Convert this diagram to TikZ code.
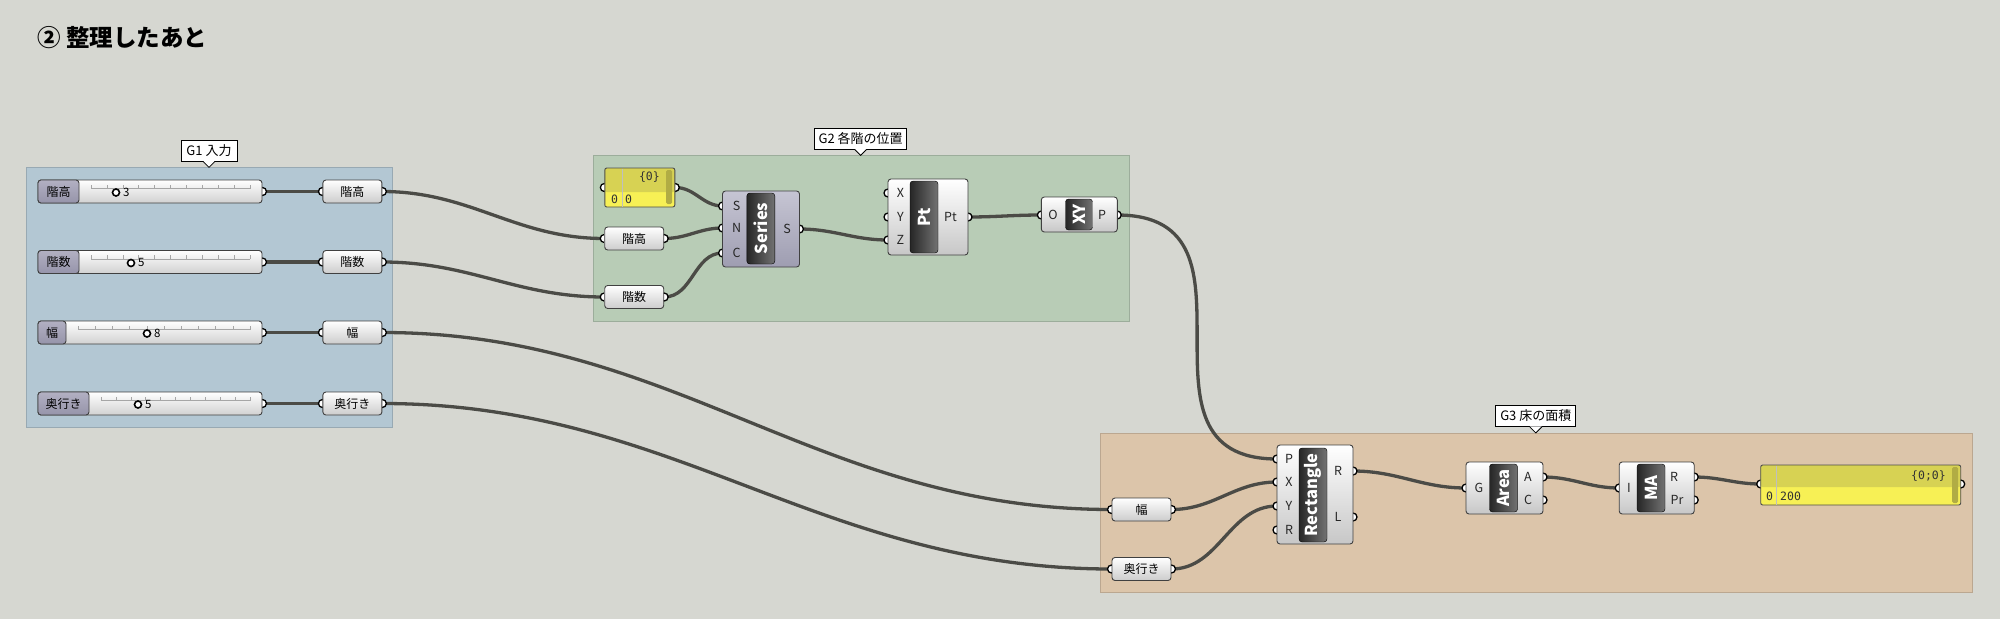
\documentclass[tikz,border=0pt]{standalone}
\usepackage{fontspec}
\setmainfont{Noto Sans CJK JP}
\newfontfamily\panfont{DejaVu Sans Mono}
\usetikzlibrary{positioning}
\pgfdeclarelayer{grp}
\pgfdeclarelayer{wires}
\pgfdeclarelayer{ports}
\pgfsetlayers{grp,wires,ports,main}
\definecolor{canvas}{HTML}{D6D7D1}
\definecolor{grpA}{HTML}{B3C7D3}
\definecolor{grpB}{HTML}{B8CCB6}
\definecolor{grpC}{HTML}{DCC5AA}
\definecolor{wirec}{HTML}{4B4B46}
\definecolor{slabhi}{HTML}{B2B0C2}
\definecolor{slablo}{HTML}{9694AA}
\definecolor{serhi}{HTML}{C6C5D3}
\definecolor{serlo}{HTML}{9E9DB1}
\definecolor{panhead}{HTML}{D7D253}
\definecolor{panbody}{HTML}{F7F055}
\definecolor{panbar}{HTML}{B1AC44}
\newcommand{\ghfont}[1]{\fontsize{#1}{#1}\selectfont}

\begin{document}
\begin{tikzpicture}[
    x=1pt, y=-1pt,
    every node/.style={inner sep=0pt, font=\ghfont{12}},
    group/.style={draw=#1!85!black, fill=#1, line width=0.8pt},
    glabel/.style={draw=black, fill=white, line width=0.8pt, minimum height=21pt, inner xsep=4pt, font=\ghfont{13}},
    slider/.style={draw=black!75, rounded corners=3pt, top color=white, bottom color=black!18, line width=0.9pt, minimum width=224pt, minimum height=23pt},
    slidername/.style={draw=black!75, rounded corners=3pt, top color=slabhi, bottom color=slablo, line width=0.9pt, minimum height=23pt, anchor=west},
    track/.style={draw=black!35, line width=0.6pt},
    knob/.style={circle, draw=black, line width=1.6pt, fill=white, minimum size=7pt},
    relay/.style={draw=black!75, rounded corners=3pt, top color=white, bottom color=black!20, line width=0.9pt, minimum width=59pt, minimum height=23pt},
    comp/.style={draw=black!75, rounded corners=3pt, top color=white, bottom color=black!22, line width=0.9pt},
    core/.style={draw=black, rounded corners=3pt, left color=black!85, right color=black!55, text=white, rotate=90, font=\ghfont{16.5}\bfseries},
    plab/.style={font=\ghfont{12.5}, text=black!85},
    port/.style={circle, draw=black, line width=1.3pt, fill=white, minimum size=8pt},
    wire/.style={draw=wirec, line width=3.3pt},
    panel/.style={draw=black!70, rounded corners=2pt, fill=panbody, line width=0.9pt,
        path picture={\fill[panhead] (path picture bounding box.north west) rectangle ([yshift=#1]path picture bounding box.south east);}},
    pantext/.style={font=\panfont\ghfont{11.5}, text=black!80}
]
\useasboundingbox (0,0) rectangle (2000,619);
\begin{pgfonlayer}{grp}
\fill[canvas] (0,0) rectangle (2000,619);
\draw[group=grpA] (26,167) rectangle (392,427);
\draw[group=grpB] (593,155) rectangle (1129.5,321);
\draw[group=grpC] (1100,433) rectangle (1972,592);
\end{pgfonlayer}

\node[anchor=west, font=\ghfont{23.5}\bfseries] (title) at (37,38) {② 整理したあと};

% group labels
\node[glabel, minimum width=56pt] (g1lab) at (209,150.5) {G1 入力};
\node[glabel, minimum width=92pt] (g2lab) at (860.6,138.5) {G2 各階の位置};
\node[glabel, minimum width=80pt] (g3lab) at (1535.8,416) {G3 床の面積};
\fill[white] ([xshift=-6pt,yshift=0.6pt]g1lab.south) -- ++(6,6.6) -- ++(6,-6.6) -- cycle;
\draw[line width=0.8pt] ([xshift=-6pt]g1lab.south) -- ++(6,6) -- ++(6,-6);
\fill[white] ([xshift=-6pt,yshift=0.6pt]g2lab.south) -- ++(6,6.6) -- ++(6,-6.6) -- cycle;
\draw[line width=0.8pt] ([xshift=-6pt]g2lab.south) -- ++(6,6) -- ++(6,-6);
\fill[white] ([xshift=-6pt,yshift=0.6pt]g3lab.south) -- ++(6,6.6) -- ++(6,-6.6) -- cycle;
\draw[line width=0.8pt] ([xshift=-6pt]g3lab.south) -- ++(6,6) -- ++(6,-6);

% G1 sliders
\node[slider] (s1) at (150,191.5) {};
\node[slidername, minimum width=41pt] (s1n) at (s1.west) {階高};
\node[slider] (s2) at (150,262) {};
\node[slidername, minimum width=41pt] (s2n) at (s2.west) {階数};
\node[slider] (s3) at (150,332.5) {};
\node[slidername, minimum width=28pt] (s3n) at (s3.west) {幅};
\node[slider] (s4) at (150,403.5) {};
\node[slidername, minimum width=51pt] (s4n) at (s4.west) {奥行き};
\foreach \ty/\tx in {188.5/91, 259/91, 329.5/78, 400.5/101}{
    \draw[track] (\tx,\ty) -- (250,\ty);
    \foreach \t in {0,...,10} \draw[track] ({\tx+(250-\tx)*\t/10},\ty) -- ++(0,-4);
}
\node[knob] (k1) at (116,192.5) {};
\node[anchor=west, font=\ghfont{11.5}] (v1) at (123,192) {3};
\node[knob] (k2) at (131,263) {};
\node[anchor=west, font=\ghfont{11.5}] (v2) at (138,262.5) {5};
\node[knob] (k3) at (147,333.5) {};
\node[anchor=west, font=\ghfont{11.5}] (v3) at (154,333) {8};
\node[knob] (k4) at (138,404.5) {};
\node[anchor=west, font=\ghfont{11.5}] (v4) at (145,404) {5};

\node[relay, right=60pt of s1] (r1) {階高};
\node[relay, right=60pt of s2] (r2) {階数};
\node[relay, right=60pt of s3] (r3) {幅};
\node[relay, right=60pt of s4] (r4) {奥行き};

% G2
\node[panel=15pt, minimum width=70pt, minimum height=39pt] (pan1) at (639.8,187.5) {};
\draw[black!25, line width=0.6pt] (622,168.5) -- (622,206.5);
\fill[panbar, rounded corners=1.5pt] (666,170) rectangle (672,204);
\node[pantext, anchor=east] (pan1h) at (660,177) {\{0\}};
\node[pantext, anchor=west] (pan1a) at (611,199) {0};
\node[pantext, anchor=west] (pan1b) at (625,199) {0};

\node[relay] (h2) at (634.2,238.5) {階高};
\node[relay] (n2) at (634.2,297) {階数};

\node[comp, top color=serhi, bottom color=serlo, minimum width=77pt, minimum height=76pt] (ser) at (761,229) {};
\node[core, minimum width=71pt, minimum height=28pt] (serc) at (760.8,228.5) {Series};
\node[plab] (ser-l1) at (736.6,206) {S};
\node[plab] (ser-l2) at (736.6,228) {N};
\node[plab] (ser-l3) at (736.6,253) {C};
\node[plab] (ser-l4) at (787,229) {S};

\node[comp, minimum width=80pt, minimum height=76pt] (pt) at (928,217) {};
\node[core, minimum width=72pt, minimum height=28pt] (ptc) at (924,217) {Pt};
\node[plab] (pt-l1) at (900.4,193) {X};
\node[plab] (pt-l2) at (900.4,217) {Y};
\node[plab] (pt-l3) at (900.4,240) {Z};
\node[plab] (pt-l4) at (950.5,217) {Pt};

\node[comp, minimum width=76pt, minimum height=35pt] (xy) at (1079.3,214.5) {};
\node[core, minimum width=31pt, minimum height=27pt] (xyc) at (1079,214.5) {XY};
\node[plab] (xy-l1) at (1053,215) {O};
\node[plab] (xy-l2) at (1102,215) {P};

% G3
\node[relay] (w3) at (1141.5,509.5) {幅};
\node[relay] (d3) at (1141.5,569) {奥行き};

\node[comp, minimum width=76pt, minimum height=99pt] (rect) at (1315,494.5) {};
\node[core, minimum width=94pt, minimum height=28pt] (rectc) at (1313,495) {Rectangle};
\node[plab] (rect-l1) at (1289,459) {P};
\node[plab] (rect-l2) at (1289,482) {X};
\node[plab] (rect-l3) at (1289,506) {Y};
\node[plab] (rect-l4) at (1289,530) {R};
\node[plab] (rect-l5) at (1338,471) {R};
\node[plab] (rect-l6) at (1338,517) {L};

\node[comp, minimum width=77pt, minimum height=52pt] (area) at (1504.5,488) {};
\node[core, minimum width=48pt, minimum height=28pt] (areac) at (1503.5,488) {Area};
\node[plab] (area-l1) at (1479,488) {G};
\node[plab] (area-l2) at (1528,477) {A};
\node[plab] (area-l3) at (1528,500) {C};

\node[comp, minimum width=75pt, minimum height=52pt] (ma) at (1656.7,488) {};
\node[core, minimum width=48pt, minimum height=28pt] (mac) at (1651,488) {MA};
\node[plab] (ma-l1) at (1629,488) {I};
\node[plab] (ma-l2) at (1674,477) {R};
\node[plab] (ma-l3) at (1677,500) {Pr};

\node[panel=18pt, minimum width=200pt, minimum height=40pt] (pan2) at (1860.7,485) {};
\draw[black!25, line width=0.6pt] (1776.6,465.5) -- (1776.6,504.5);
\fill[panbar, rounded corners=1.5pt] (1952,467) rectangle (1958,503);
\node[pantext, anchor=east] (pan2h) at (1946,476) {\{0;0\}};
\node[pantext, anchor=west] (pan2a) at (1766,496.5) {0};
\node[pantext, anchor=west] (pan2b) at (1780,496.5) {200};

\begin{pgfonlayer}{ports}
\node[port] (s1o) at (s1.east) {};
\node[port] (s2o) at (s2.east) {};
\node[port] (s3o) at (s3.east) {};
\node[port] (s4o) at (s4.east) {};
\node[port] (r1i) at (r1.west) {};
\node[port] (r1o) at (r1.east) {};
\node[port] (r2i) at (r2.west) {};
\node[port] (r2o) at (r2.east) {};
\node[port] (r3i) at (r3.west) {};
\node[port] (r3o) at (r3.east) {};
\node[port] (r4i) at (r4.west) {};
\node[port] (r4o) at (r4.east) {};
\node[port] (pan1i) at (pan1.west) {};
\node[port] (pan1o) at (pan1.east) {};
\node[port] (h2i) at (h2.west) {};
\node[port] (h2o) at (h2.east) {};
\node[port] (n2i) at (n2.west) {};
\node[port] (n2o) at (n2.east) {};
\node[port] (ser-in1) at (722.6,206) {};
\node[port] (ser-in2) at (722.6,228) {};
\node[port] (ser-in3) at (722.6,253) {};
\node[port] (ser-out) at (799.4,229) {};
\node[port] (pt-in1) at (888,193) {};
\node[port] (pt-in2) at (888,217) {};
\node[port] (pt-in3) at (888,240) {};
\node[port] (pt-out) at (968,217) {};
\node[port] (xy-in) at (1041.4,215) {};
\node[port] (xy-out) at (1117.2,215) {};
\node[port] (w3i) at (w3.west) {};
\node[port] (w3o) at (w3.east) {};
\node[port] (d3i) at (d3.west) {};
\node[port] (d3o) at (d3.east) {};
\node[port] (rect-in1) at (1277,459) {};
\node[port] (rect-in2) at (1277,482) {};
\node[port] (rect-in3) at (1277,506) {};
\node[port] (rect-in4) at (1277,530) {};
\node[port] (rect-out1) at (1353,471) {};
\node[port] (rect-out2) at (1353,517) {};
\node[port] (area-in) at (1466,488) {};
\node[port] (area-out1) at (1543,477) {};
\node[port] (area-out2) at (1543,500) {};
\node[port] (ma-in) at (1619.2,488) {};
\node[port] (ma-out1) at (1694.2,477) {};
\node[port] (ma-out2) at (1694.2,500) {};
\node[port] (pan2i) at (1760.7,484) {};
\node[port] (pan2o) at (1960.7,484) {};
\end{pgfonlayer}

\begin{pgfonlayer}{wires}
\draw[wire] (s1o.center) -- (r1i.center);
\draw[wire] (s2o.center) -- (r2i.center);
\draw[wire] (s3o.center) -- (r3i.center);
\draw[wire] (s4o.center) -- (r4i.center);
\draw[wire] (r1o.center) to[out=0, in=180] (h2i.center);
\draw[wire] (r2o.center) to[out=0, in=180] (n2i.center);
\draw[wire] (r3o.center) to[out=0, in=180] (w3i.center);
\draw[wire] (r4o.center) to[out=0, in=180] (d3i.center);
\draw[wire] (pan1o.center) to[out=0, in=180] (ser-in1.center);
\draw[wire] (h2o.center) to[out=0, in=180] (ser-in2.center);
\draw[wire] (n2o.center) to[out=0, in=180] (ser-in3.center);
\draw[wire] (ser-out.center) to[out=0, in=180] (pt-in3.center);
\draw[wire] (pt-out.center) to[out=0, in=180] (xy-in.center);
\draw[wire] (xy-out.center) .. controls +(160,0) and +(-160,0) .. (rect-in1.center);
\draw[wire] (w3o.center) to[out=0, in=180] (rect-in2.center);
\draw[wire] (d3o.center) to[out=0, in=180] (rect-in3.center);
\draw[wire] (rect-out1.center) to[out=0, in=180] (area-in.center);
\draw[wire] (area-out1.center) to[out=0, in=180] (ma-in.center);
\draw[wire] (ma-out1.center) to[out=0, in=180] (pan2i.center);
\end{pgfonlayer}
\end{tikzpicture}
\end{document}
